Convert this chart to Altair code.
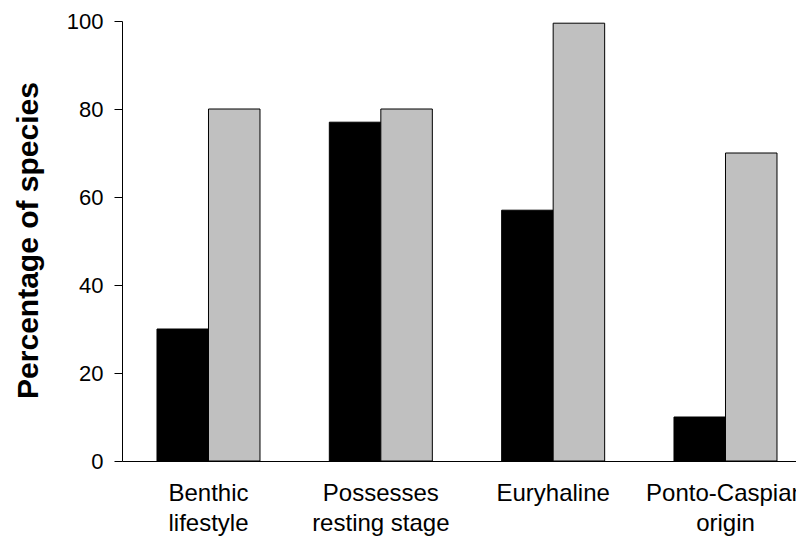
import altair as alt
import pandas as pd

categories = ["Benthic\nlifestyle", "Possesses\nresting stage", "Euryhaline", "Ponto-Caspian\norigin"]
series = ["Series 1", "Series 2"]
series1_values = [30, 77, 57, 10]
series2_values = [80, 80, 99.5, 70]
y_ticks = [0, 20, 40, 60, 80, 100]

rows = []
for c, a, b in zip(categories, series1_values, series2_values):
    rows.append({"category": c, "series": series[0], "value": a})
    rows.append({"category": c, "series": series[1], "value": b})
df = pd.DataFrame(rows)

chart = alt.Chart(df).mark_bar(stroke="black", strokeWidth=1).encode(
    x=alt.X("category:N", sort=categories,
            scale=alt.Scale(paddingInner=0.4023, paddingOuter=0.1567, align=0.648),
            axis=alt.Axis(title=None, labelAngle=0, ticks=False, labelPadding=20,
                          labelExpr="split(datum.label, '\\n')", labelLineHeight=30,
                          labelFont="Liberation Sans", labelFontSize=24, labelColor="black",
                          labelOverlap=False, labelBound=False,
                          domainColor="black", domainWidth=1)),
    xOffset=alt.XOffset("series:N", sort=series, scale=alt.Scale(paddingInner=0, paddingOuter=0)),
    y=alt.Y("value:Q", scale=alt.Scale(domain=[0, 100], nice=False),
            axis=alt.Axis(title="Percentage of species", values=y_ticks, grid=False,
                          tickSize=8, tickColor="black", labelPadding=11,
                          labelFont="Liberation Sans", labelFontSize=22, labelColor="black",
                          domainColor="black", titleFont="Liberation Sans", titleFontSize=30,
                          titleFontWeight="bold", titleColor="black", titleAngle=270,
                          titleBaseline="middle", titleAlign="center", titleX=-94, titleY=219)),
    color=alt.Color("series:N", sort=series,
                    scale=alt.Scale(domain=series, range=["#000000", "#c0c0c0"]),
                    legend=None),
).properties(
    width=674, height=440,
    autosize=alt.AutoSizeParams(type="none"),
    padding={"left": 114, "top": 13, "right": 0, "bottom": 75},
).configure_view(stroke=None)

chart.save("out.html", embed_options={"renderer": "svg", "actions": False})
